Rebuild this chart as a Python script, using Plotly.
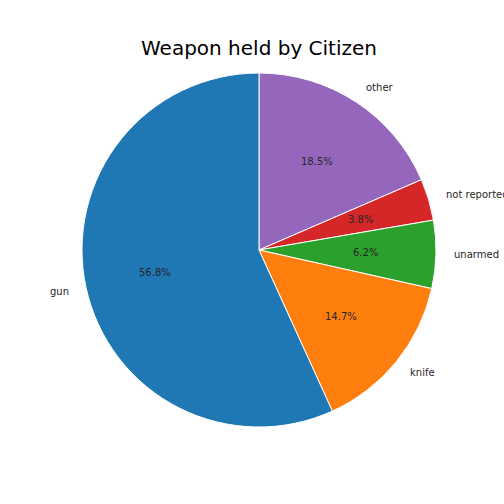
import math
import plotly.graph_objects as go

labels = ["gun", "knife", "unarmed", "not reported", "other"]
values = [56.8, 14.7, 6.2, 3.8, 18.5]
colors = ["#1f77b4", "#ff7f0e", "#2ca02c", "#d62728", "#9467bd"]

fig = go.Figure()
# drawn clockwise from 12 o'clock in reversed order == counterclockwise from 12 o'clock in original order
fig.add_trace(go.Pie(
    labels=labels[::-1], values=values[::-1], sort=False, direction="clockwise",
    rotation=0, textinfo="none", hoverinfo="label+percent",
    marker=dict(colors=colors[::-1], line=dict(color="white", width=1)),
    showlegend=False, domain=dict(x=[0, 1], y=[0, 1]),
))

total = sum(values)
annotations = []
cum = 0.0
for lab, v in zip(labels, values):
    mid = math.radians(90 + (cum + v / 2) / total * 360)
    cum += v
    c, s = math.cos(mid), math.sin(mid)
    annotations.append(dict(
        x=0.5 + 0.5 * 1.1 * c, y=0.5 + 0.5 * 1.1 * s, xref="paper", yref="paper",
        text=lab, showarrow=False, xanchor="left" if c > 0 else "right",
        yanchor="middle", borderpad=0, borderwidth=0,
        font=dict(size=10, color="#262626"),
    ))
    annotations.append(dict(
        x=0.5 + 0.5 * 0.6 * c, y=0.5 + 0.5 * 0.6 * s, xref="paper", yref="paper",
        text=f"{v / total * 100:.1f}%", showarrow=False, xanchor="center",
        yanchor="middle", borderpad=0, borderwidth=0,
        font=dict(size=10, color="#262626"),
    ))

fig.update_layout(
    width=504, height=504,
    margin=dict(l=82, r=68, t=73, b=77),
    paper_bgcolor="white", plot_bgcolor="white",
    font=dict(family="DejaVu Sans", color="#262626"),
    title=dict(text="Weapon held by Citizen", x=0.5, xanchor="center",
               y=1 - 48 / 504, yanchor="middle", xref="paper",
               font=dict(size=20, color="black", family="DejaVu Sans")),
    annotations=annotations,
)

fig.write_html("out.html", config={"displayModeBar": False},
               post_script="document.body.style.margin='0';")
